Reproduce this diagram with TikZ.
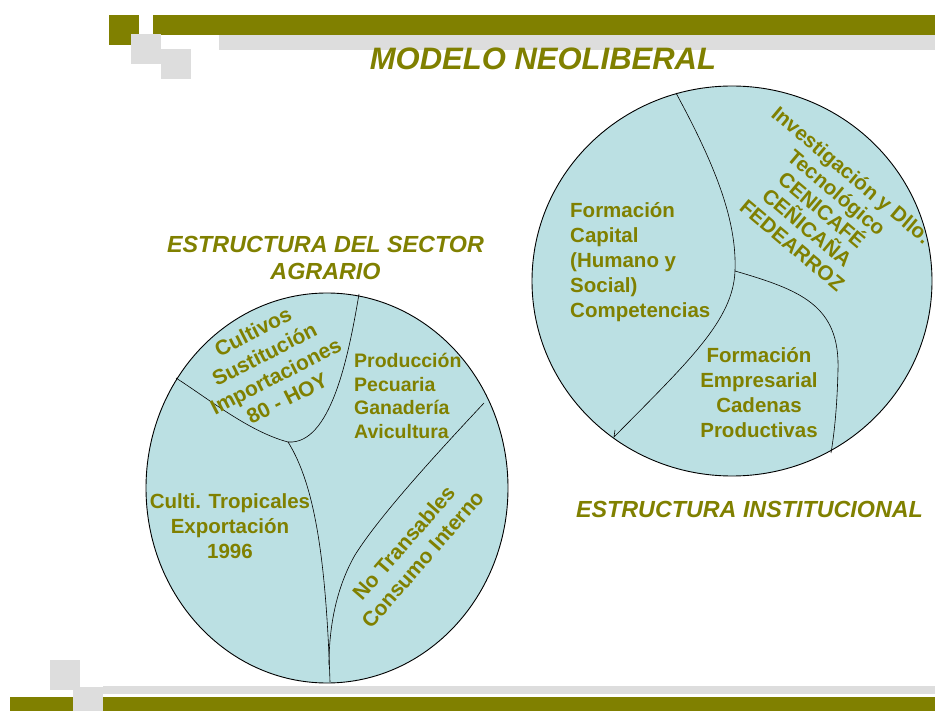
\documentclass[tikz,border=0pt]{standalone}
\usepackage{fontspec}
\setmainfont{Liberation Sans}
\usepackage{xcolor}
\usepackage{tikz}
\definecolor{barolive}{RGB}{128,128,0}
\definecolor{bargrey}{RGB}{221,221,221}
\definecolor{piefill}{RGB}{187,224,227}
\tikzset{
    pie/.style={draw=black, fill=piefill, line width=0.9pt},
    cut/.style={draw=black, line width=0.6pt},
    sectortext/.style={text=barolive, inner sep=0pt, font=\bfseries\fontsize{20.5}{25}\selectfont},
    heading/.style={text=barolive, inner sep=0pt, align=center, font=\bfseries\itshape\fontsize{23.3}{27}\selectfont}
}

\begin{document}
\begin{tikzpicture}[x=1pt, y=-1pt]
        \useasboundingbox (0,0) rectangle (935,711);
        % bars top and bottom
        \fill[barolive] (109,15) rectangle (139,45);
        \fill[barolive] (153,15) rectangle (935,35);
        \fill[bargrey] (131,34) rectangle (161,64);
        \fill[bargrey] (161,49) rectangle (191,79);
        \fill[bargrey] (219,35) rectangle (935,50);
        \fill[bargrey] (50,660) rectangle (80,690);
        \fill[barolive] (10,697) rectangle (935,711);
        \fill[bargrey] (103,686) rectangle (935,694);
        \fill[bargrey] (73,687) rectangle (103,711);

        \draw (543,70) node[heading, anchor=base, font=\bfseries\itshape\fontsize{31}{36}\selectfont](title){MODELO NEOLIBERAL};

        % sector agrario
        \draw[pie] (327,488) ellipse [x radius=181pt, y radius=195pt];
        \coordinate (knot) at (288,442);
        \draw[cut] (176,378) .. controls (210,400) and (250,432) .. (knot);
        \draw[cut] (knot) .. controls (330,445) and (348,360) .. (359,294);
        \draw[cut] (knot) .. controls (315,485) and (326,560) .. (330,682);
        \draw[cut] (484,403) .. controls (440,450) and (380,515) .. (355,555) .. controls (335,590) and (329,630) .. (329,665);

        \draw (270,365) node[sectortext, align=center, rotate=27, font=\bfseries\fontsize{21}{25}\selectfont](cultivos){Cultivos\\Sustitución\\Importaciones\\80 - HOY};
        \draw (354,353) node[sectortext, align=left, anchor=north west, font=\bfseries\fontsize{19.5}{23.5}\selectfont](pecuaria){Producción\\Pecuaria\\Ganadería\\Avicultura};
        \draw (230,493) node[sectortext, align=center, anchor=north](tropicales){Culti. Tropicales\\Exportación\\1996};
        \draw (413,551) node[sectortext, align=center, rotate=49, font=\bfseries\fontsize{21}{25}\selectfont](transables){No Transables\\Consumo Interno};
        \draw (325.5,236.5) node[heading, anchor=north](agrario){ESTRUCTURA DEL SECTOR\\AGRARIO};

        % estructura institucional
        \draw[pie] (732,281) ellipse [x radius=200pt, y radius=195pt];
        \coordinate (fork) at (735,271);
        \draw[cut] (676,93) .. controls (715,165) and (737,220) .. (fork) .. controls (733,320) and (690,360) .. (614,437) -- ++(1,-7);
        \draw[cut] (fork) .. controls (800,290) and (840,305) .. (838,370) .. controls (837,410) and (834,435) .. (831,453);

        \draw (570,202) node[sectortext, align=left, anchor=north west](capital){Formación\\Capital\\(Humano y\\Social)\\Competencias};
        \draw (759,347) node[sectortext, align=center, anchor=north](empresarial){Formación\\Empresarial\\Cadenas\\Productivas};
        \draw (822,210) node[sectortext, align=center, rotate=-40, font=\bfseries\fontsize{20.7}{23}\selectfont](investigacion){Investigación y Dllo.\\Tecnológico\\CENICAFÉ\\CEÑICAÑA\\FEDEARROZ};
        \draw (749.5,517) node[heading, anchor=base](institucional){ESTRUCTURA INSTITUCIONAL};
\end{tikzpicture}
\end{document}
